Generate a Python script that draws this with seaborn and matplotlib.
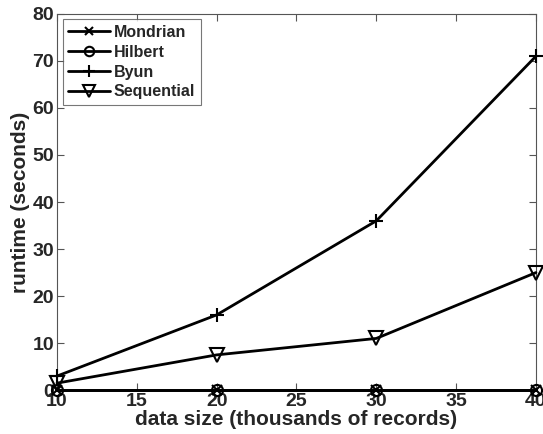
import matplotlib
matplotlib.use("Agg")
import matplotlib.pyplot as plt
import seaborn as sns
import pandas as pd

sizes = [10, 20, 30, 40]
mondrian = [0.05, 0.05, 0.05, 0.05]
hilbert = [0.05, 0.05, 0.05, 0.05]
byun = [3, 16, 36, 71]
sequential = [1.5, 7.5, 11, 25]

sns.set_theme(style="ticks")
plt.rcParams['font.family'] = ['Liberation Sans', 'DejaVu Sans']
plt.rcParams['font.weight'] = 'bold'

fig = plt.figure(figsize=(5.43, 4.34), dpi=100)
ax = fig.add_axes([0.105, 0.101, 0.882, 0.867])

series = [("Mondrian", mondrian, dict(marker='x', ms=7, mew=1.5)),
          ("Hilbert", hilbert, dict(marker='o', ms=8, mfc='none', mew=1.5)),
          ("Byun", byun, dict(marker='+', ms=10, mew=1.5)),
          ("Sequential", sequential, dict(marker='v', ms=10, mfc='none', mew=1.5))]
for name, vals, kw in series:
    df = pd.DataFrame({"x": sizes, "y": vals})
    sns.lineplot(data=df, x="x", y="y", ax=ax, color='black', lw=2, label=name,
                 mec='black', clip_on=False, zorder=3, **kw)

ax.set_xlim(10, 40)
ax.set_ylim(0, 80)
ax.set_xticks([10, 15, 20, 25, 30, 35, 40])
ax.set_yticks(range(0, 81, 10))
ax.tick_params(direction='in', top=True, right=True, labelsize=14, length=5, width=0.8, color='#555555', pad=2)
for s in ax.spines.values():
    s.set_color('#555555')
    s.set_linewidth(0.8)
    s.set_visible(True)
ax.set_xlabel("data size (thousands of records)", fontsize=15, fontweight='bold', labelpad=0)
ax.set_ylabel("runtime (seconds)", fontsize=15, fontweight='bold', labelpad=2)
for lab in ax.get_xticklabels() + ax.get_yticklabels():
    lab.set_fontweight('bold')
leg = ax.legend(loc='upper left', frameon=True, fancybox=False, edgecolor='#555555',
                handlelength=2.6, borderaxespad=0.35, labelspacing=0.3, borderpad=0.35, handletextpad=0.25,
                markerscale=0.85, prop={'weight': 'bold', 'size': 11.5})
leg.get_frame().set_linewidth(0.8)
fig.savefig("out.png", dpi=100)
